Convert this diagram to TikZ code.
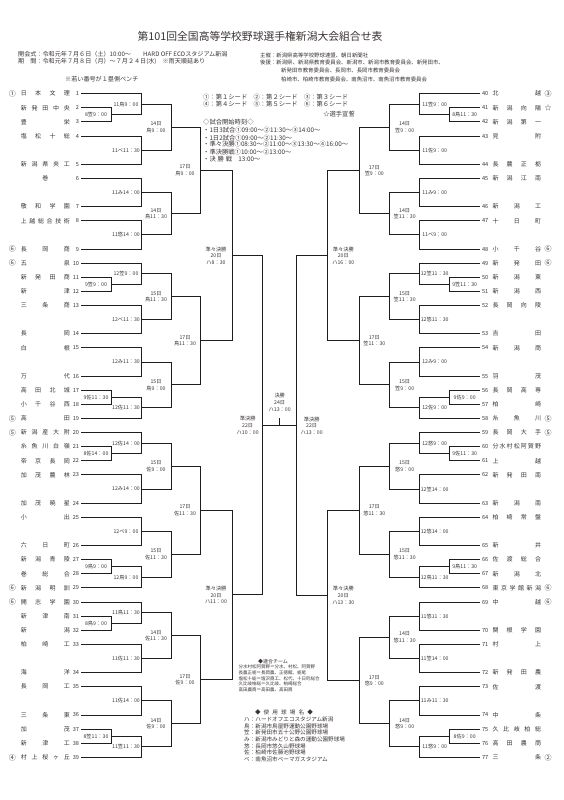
\documentclass[tikz,border=0pt]{standalone}
\usepackage{fontspec}
\setmainfont{Noto Sans CJK JP}
\usetikzlibrary{calc}
\definecolor{txt}{HTML}{3A3333}
\definecolor{ln}{HTML}{1E1E1E}
\def\spr#1{\sprA#1\relax}
\def\sprA#1{#1\sprB}
\def\sprB#1{\ifx#1\relax\else\hfill#1\expandafter\sprB\fi}
\newcommand\LT[4]{%
 \coordinate (t#1) at (81,{93.7+14.12*#2});
 \node[num,anchor=east] (k#1) at (79.2,{93.7+14.12*#2}) {#1};
 \node[nm,anchor=west] (n#1) at (20.7,{93.7+14.12*#2}) {\makebox[49pt]{\spr{#3}}};
 \ifx\relax#4\relax\else\node[sd] (s#1) at (12.5,{93.7+14.12*#2}) {#4};\fi}
\newcommand\RT[4]{%
 \coordinate (t#1) at (480,{93.7+14.12*#2});
 \node[num,anchor=west] (k#1) at (481.8,{93.7+14.12*#2}) {#1};
 \node[nm,anchor=west] (n#1) at (492.3,{93.7+14.12*#2}) {\makebox[48.5pt]{\spr{#3}}};
 \ifx\relax#4\relax\else\node[sd] (s#1) at (548,{93.7+14.12*#2}) {#4};\fi}
\newcommand\M[6]{%
 \draw[br] (#3) -- (#3 -| #2) -- (#4 -| #2) -- (#4);
 \coordinate (#1) at ($(#3 -| #2)!.5!(#4 -| #2)$);
 \node[lb] (L#1) at ([xshift=#6pt]#1) {#5};}
\begin{document}
\begin{tikzpicture}[x=1pt,y=-1pt,every node/.style={text=txt},
 br/.style={draw=ln,line width=0.95pt},
 lb/.style={font=\fontsize{5.2}{6.6}\selectfont,align=center,inner sep=0pt},
 nm/.style={font=\fontsize{6}{7}\selectfont,inner sep=0pt},
 num/.style={font=\fontsize{5.6}{6}\selectfont,inner sep=0pt},
 sd/.style={font=\fontsize{7}{7}\selectfont,inner sep=0pt},
 info/.style={font=\fontsize{5.4}{6}\selectfont,inner sep=0pt,anchor=west},
 infoL/.style={font=\fontsize{6.1}{6.5}\selectfont,inner sep=0pt,anchor=west},
 lg/.style={font=\fontsize{6.3}{7}\selectfont,inner sep=0pt,anchor=west},
 sm/.style={font=\fontsize{4.5}{5}\selectfont,inner sep=0pt,anchor=west},
 st/.style={font=\fontsize{5.6}{6}\selectfont,inner sep=0pt,anchor=west}]
\fill[white] (0,0) rectangle (564,800);
\useasboundingbox (0,0) rectangle (564,800);
% header
\node[font=\fontsize{10.8}{12}\selectfont,inner sep=0pt] (title) at (260,36) {第101回全国高等学校野球選手権新潟大会組合せ表};
\node[infoL] (i1) at (18,54) {開会式：令和元年７月６日（土）10:00～\hspace{2em}HARD OFF ECOスタジアム新潟};
\node[infoL] (i2) at (18,61.7) {期\hspace{1em}間：令和元年７月８日（月）～７月２４日(水)\hspace{1em}※雨天順延あり};
\node[infoL] (i7) at (65,79.3) {※若い番号が１塁側ベンチ};
\node[info] (i3) at (260,55) {主催：新潟県高等学校野球連盟、朝日新聞社};
\node[info] (i4) at (260,62.3) {後援：新潟県、新潟県教育委員会、新潟市、新潟市教育委員会、新発田市、};
\node[info] (i5) at (281,70.7) {新発田市教育委員会、長岡市、長岡市教育委員会};
\node[info] (i6) at (281,79.3) {柏崎市、柏崎市教育委員会、南魚沼市、南魚沼市教育委員会};
% seed legend
\node[lg] (g1) at (203,97.3) {①：第１シード\hspace{1em}②：第２シード\hspace{1em}③：第３シード};
\node[lg] (g2) at (203,104.3) {④：第４シード\hspace{1em}⑤：第５シード\hspace{1em}⑥：第６シード};
\node[lg,anchor=east] (g3) at (355,114) {☆選手宣誓};
\node[lg] (g4) at (203,122.3) {◇試合開始時刻◇};
\node[lg] (g5) at (203,130) {・1日3試合①09:00～②11:30～③14:00～};
\node[lg] (g6) at (203,137.7) {・1日2試合①09:00～②11:30～};
\node[lg] (g7) at (203,144.3) {・準々決勝①08:30～②11:00～③13:30～④16:00～};
\node[lg] (g8) at (203,151.7) {・準決勝戦①10:00～②13:00～};
\node[lg] (g9) at (203,158.7) {・決\hspace{0.3em}勝\hspace{0.3em}戦\hspace{1em}13:00～};
% x positions
\coordinate (xL0) at (111,0); \coordinate (xL1) at (141,0); \coordinate (xL2) at (171,0);
\coordinate (xL3) at (200,0); \coordinate (xL4) at (232,0); \coordinate (xL5) at (262.7,0);
\coordinate (xR0) at (449.7,0); \coordinate (xR1) at (419.7,0); \coordinate (xR2) at (389.7,0);
\coordinate (xR3) at (359.3,0); \coordinate (xR4) at (327.3,0); \coordinate (xR5) at (296.7,0);
% left teams
\LT{1}{0}{日本文理}{①}
\LT{2}{1}{新発田中央}{}
\LT{3}{2}{豊栄}{}
\LT{4}{3}{塩松十総}{}
\LT{5}{5}{新潟県央工}{}
\LT{6}{6}{巻}{}
\LT{7}{8}{敬和学園}{}
\LT{8}{9}{上越総合技術}{}
\LT{9}{11}{長岡商}{⑥}
\LT{10}{12}{五泉}{⑥}
\LT{11}{13}{新発田商}{}
\LT{12}{14}{新津}{}
\LT{13}{15}{三条商}{}
\LT{14}{17}{長岡}{}
\LT{15}{18}{白根}{}
\LT{16}{20}{万代}{}
\LT{17}{21}{高田北城}{}
\LT{18}{22}{小千谷西}{}
\LT{19}{23}{高田}{⑤}
\LT{20}{24}{新潟産大附}{⑤}
\LT{21}{25}{糸魚川白嶺}{}
\LT{22}{26}{帝京長岡}{}
\LT{23}{27}{加茂農林}{}
\LT{24}{29}{加茂暁星}{}
\LT{25}{30}{小出}{}
\LT{26}{32}{六日町}{}
\LT{27}{33}{新潟青陵}{}
\LT{28}{34}{巻総合}{}
\LT{29}{35}{新潟明訓}{⑥}
\LT{30}{36}{開志学園}{⑥}
\LT{31}{37}{新津南}{}
\LT{32}{38}{新潟}{}
\LT{33}{39}{柏崎工}{}
\LT{34}{41}{海洋}{}
\LT{35}{42}{長岡工}{}
\LT{36}{44}{三条東}{}
\LT{37}{45}{加茂}{}
\LT{38}{46}{新津工}{}
\LT{39}{47}{村上桜ヶ丘}{④}
% right teams
\RT{40}{0}{北越}{③}
\RT{41}{1}{新潟向陽}{☆}
\RT{42}{2}{新潟第一}{}
\RT{43}{3}{見附}{}
\RT{44}{5}{長農正栃}{}
\RT{45}{6}{新潟江南}{}
\RT{46}{8}{新潟工}{}
\RT{47}{9}{十日町}{}
\RT{48}{11}{小千谷}{⑥}
\RT{49}{12}{新発田}{⑥}
\RT{50}{13}{新潟東}{}
\RT{51}{14}{新潟西}{}
\RT{52}{15}{長岡向陵}{}
\RT{53}{17}{吉田}{}
\RT{54}{18}{新潟商}{}
\RT{55}{20}{羽茂}{}
\RT{56}{21}{長岡高専}{}
\RT{57}{22}{柏崎}{}
\RT{58}{23}{糸魚川}{⑤}
\RT{59}{24}{長岡大手}{⑤}
\RT{60}{25}{分水村松阿賀野}{}
\RT{61}{26}{上越}{}
\RT{62}{27}{新発田南}{}
\RT{63}{29}{新潟南}{}
\RT{64}{30}{柏崎常盤}{}
\RT{65}{32}{新井}{}
\RT{66}{33}{佐渡総合}{}
\RT{67}{34}{新潟北}{}
\RT{68}{35}{東京学館新潟}{⑥}
\RT{69}{36}{中越}{⑥}
\RT{70}{38}{関根学園}{}
\RT{71}{39}{村上}{}
\RT{72}{41}{新発田農}{}
\RT{73}{42}{佐渡}{}
\RT{74}{44}{中条}{}
\RT{75}{45}{久比岐柏総}{}
\RT{76}{46}{高田農商}{}
\RT{77}{47}{三条}{②}
% left prelims
\M{p1}{xL0}{t2}{t3}{8笠9：00}{-15}
\M{p2}{xL0}{t11}{t12}{9笠9：00}{-15}
\M{p3}{xL0}{t17}{t18}{9佐11：30}{-15}
\M{p4}{xL0}{t21}{t22}{8佐14：00}{-15}
\M{p5}{xL0}{t27}{t28}{9鳥9：00}{-15}
\M{p6}{xL0}{t31}{t32}{8鳥9：00}{-15}
\M{p7}{xL0}{t37}{t38}{8笠11：30}{-15}
% left first round
\M{a1}{xL1}{t1}{p1}{11鳥9：00}{-15}
\M{a2}{xL1}{t4}{t5}{11ベ11：30}{-15}
\M{a3}{xL1}{t6}{t7}{11み14：00}{-15}
\M{a4}{xL1}{t8}{t9}{11悠14：00}{-15}
\M{a5}{xL1}{t10}{p2}{12笠9：00}{-15}
\M{a6}{xL1}{t13}{t14}{12ベ11：30}{-15}
\M{a7}{xL1}{t15}{t16}{12み11：30}{-15}
\M{a8}{xL1}{p3}{t19}{12佐11：30}{-15}
\M{a9}{xL1}{t20}{p4}{12佐14：00}{-15}
\M{a10}{xL1}{t23}{t24}{12み14：00}{-15}
\M{a11}{xL1}{t25}{t26}{12ベ9：00}{-15}
\M{a12}{xL1}{p5}{t29}{12鳥9：00}{-15}
\M{a13}{xL1}{t30}{p6}{11鳥11：30}{-15}
\M{a14}{xL1}{t33}{t34}{11佐11：30}{-15}
\M{a15}{xL1}{t35}{t36}{11佐14：00}{-15}
\M{a16}{xL1}{p7}{t39}{11笠11：30}{-15}
% left second round
\M{b1}{xL2}{a1}{a2}{14日\\鳥9：00}{-15}
\M{b2}{xL2}{a3}{a4}{14日\\鳥11：30}{-15}
\M{b3}{xL2}{a5}{a6}{15日\\鳥11：30}{-15}
\M{b4}{xL2}{a7}{a8}{15日\\鳥9：00}{-15}
\M{b5}{xL2}{a9}{a10}{15日\\佐9：00}{-15}
\M{b6}{xL2}{a11}{a12}{15日\\佐11：30}{-15}
\M{b7}{xL2}{a13}{a14}{14日\\佐11：30}{-15}
\M{b8}{xL2}{a15}{a16}{14日\\佐9：00}{-15}
% left third round
\M{c1}{xL3}{b1}{b2}{17日\\鳥9：00}{-15}
\M{c2}{xL3}{b3}{b4}{17日\\鳥11：30}{-15}
\M{c3}{xL3}{b5}{b6}{17日\\佐11：30}{-15}
\M{c4}{xL3}{b7}{b8}{17日\\佐9：00}{-15}
% left QF, SF
\M{q1}{xL4}{c1}{c2}{準々決勝\\20日\\ハ8：30}{-16}
\M{q2}{xL4}{c3}{c4}{準々決勝\\20日\\ハ11：00}{-16}
\M{sL}{xL5}{q1}{q2}{準決勝\\22日\\ハ10：00}{-15}
% right prelims
\M{P1}{xR0}{t41}{t42}{8鳥11：30}{15}
\M{P2}{xR0}{t50}{t51}{9笠11：30}{15}
\M{P3}{xR0}{t56}{t57}{9佐9：00}{15}
\M{P4}{xR0}{t60}{t61}{9佐11：30}{15}
\M{P5}{xR0}{t66}{t67}{9鳥11：30}{15}
\M{P6}{xR0}{t75}{t76}{8佐9：00}{15}
% right first round
\M{A1}{xR1}{t40}{P1}{11笠9：00}{15}
\M{A2}{xR1}{t43}{t44}{11佐9：00}{15}
\M{A3}{xR1}{t45}{t46}{11み9：00}{15}
\M{A4}{xR1}{t47}{t48}{11ベ9：00}{15}
\M{A5}{xR1}{t49}{P2}{12笠11：30}{15}
\M{A6}{xR1}{t52}{t53}{12悠11：30}{15}
\M{A7}{xR1}{t54}{t55}{12み9：00}{15}
\M{A8}{xR1}{P3}{t58}{12佐9：00}{15}
\M{A9}{xR1}{t59}{P4}{12悠9：00}{15}
\M{A10}{xR1}{t62}{t63}{12笠14：00}{15}
\M{A11}{xR1}{t64}{t65}{12悠14：00}{15}
\M{A12}{xR1}{P5}{t68}{12鳥11：30}{15}
\M{A13}{xR1}{t69}{t70}{11悠11：30}{15}
\M{A14}{xR1}{t71}{t72}{11笠14：00}{15}
\M{A15}{xR1}{t73}{t74}{11み11：30}{15}
\M{A16}{xR1}{P6}{t77}{11悠9：00}{15}
% right second round
\M{B1}{xR2}{A1}{A2}{14日\\笠9：00}{15}
\M{B2}{xR2}{A3}{A4}{14日\\笠11：30}{15}
\M{B3}{xR2}{A5}{A6}{15日\\笠11：30}{15}
\M{B4}{xR2}{A7}{A8}{15日\\笠9：00}{15}
\M{B5}{xR2}{A9}{A10}{15日\\悠9：00}{15}
\M{B6}{xR2}{A11}{A12}{15日\\悠11：30}{15}
\M{B7}{xR2}{A13}{A14}{14日\\悠11：30}{15}
\M{B8}{xR2}{A15}{A16}{14日\\悠9：00}{15}
% right third round
\M{C1}{xR3}{B1}{B2}{17日\\笠9：00}{15}
\M{C2}{xR3}{B3}{B4}{17日\\笠11：30}{15}
\M{C3}{xR3}{B5}{B6}{17日\\悠11：30}{15}
\M{C4}{xR3}{B7}{B8}{17日\\悠9：00}{15}
% right QF, SF
\M{Q1}{xR4}{C1}{C2}{準々決勝\\20日\\ハ16：00}{16}
\M{Q2}{xR4}{C3}{C4}{準々決勝\\20日\\ハ13：30}{16}
\M{sR}{xR5}{Q1}{Q2}{準決勝\\22日\\ハ13：00}{15}
% final
\draw[br] (sL) -- (sL -| sR);
\coordinate (fin) at ($(sL)!.5!(sL -| sR)$);
\coordinate (fintop) at ([yshift=7.7pt]fin);
\draw[br] (fin) -- (fintop);
\node[lb,anchor=south] (Lfin) at ([yshift=14pt]fin) {決勝\\24日\\ハ13：00};
% bottom legends
\node[font=\fontsize{5}{6}\selectfont,inner sep=0pt] (u0) at (273,661.7) {◆連合チーム};
\node[sm] (u1) at (238.3,667) {分水村松阿賀野＝分水、村松、阿賀野};
\node[sm] (u2) at (238.3,672.6) {長農正栃＝長岡農、正徳館、栃尾};
\node[sm] (u3) at (238.3,678.4) {塩松十総＝塩沢商工、松代、十日町総合};
\node[sm] (u4) at (238.3,684.2) {久比岐柏総＝久比岐、柏崎総合};
\node[sm] (u5) at (238.3,690) {高田農商＝高田農、高田商};
\node[font=\fontsize{5.6}{6}\selectfont,inner sep=0pt] (v0) at (284,712.7) {\makebox[58pt]{\spr{◆使用球場名◆}}};
\node[st] (v1) at (244,719.3) {ハ：ハードオフエコスタジアム新潟};
\node[st] (v2) at (244,726) {鳥：新潟市鳥屋野運動公園野球場};
\node[st] (v3) at (244,732.7) {笠：新発田市五十公野公園野球場};
\node[st] (v4) at (244,739.3) {み：新潟市みどりと森の運動公園野球場};
\node[st] (v5) at (244,746) {悠：長岡市悠久山野球場};
\node[st] (v6) at (244,752.7) {佐：柏崎市佐藤池野球場};
\node[st] (v7) at (244,759.3) {ベ：南魚沼市ベーマガスタジアム};
\end{tikzpicture}
\end{document}
